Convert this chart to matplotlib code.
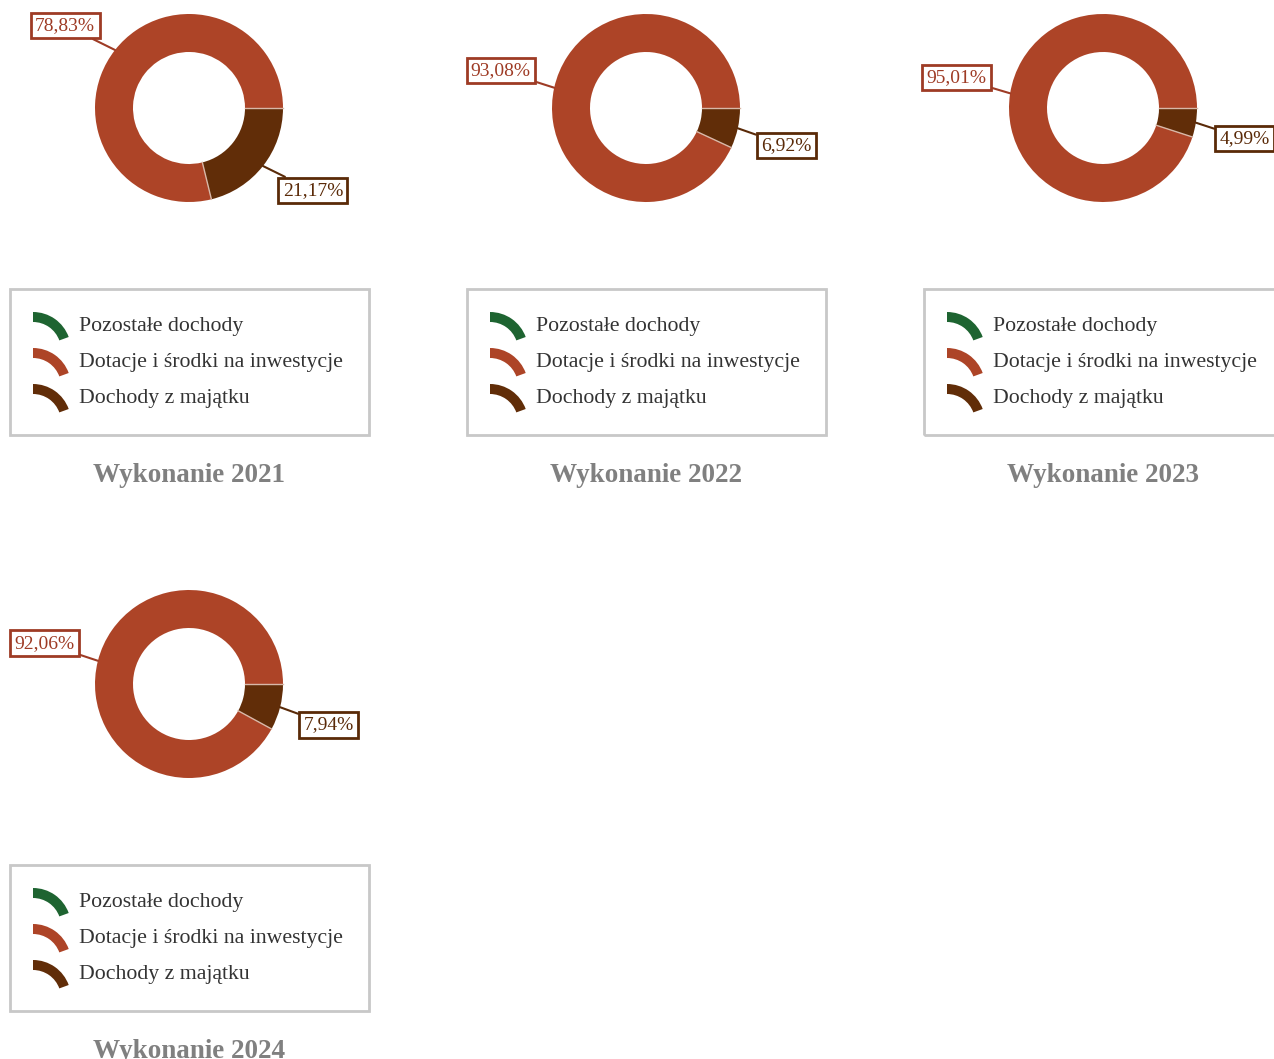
import numpy as np
import matplotlib
matplotlib.use("Agg")
import matplotlib.pyplot as plt
from matplotlib.patches import Rectangle, Wedge

plt.rcParams['font.family'] = ['Liberation Serif', 'DejaVu Serif']

# data
categories = ['Pozostałe dochody', 'Dotacje i środki na inwestycje', 'Dochody z majątku']
years = ['2021', '2022', '2023', '2024']
shares = {
    '2021': [0.0, 78.83, 21.17],
    '2022': [0.0, 93.08, 6.92],
    '2023': [0.0, 95.01, 4.99],
    '2024': [0.0, 92.06, 7.94],
}
colors = ['#1E6431', '#AD4427', '#612D08']
label_colors = ['#1E6431', '#9E3B25', '#5A2A08']

W, H = 1274, 1059
fig = plt.figure(figsize=(W / 100, H / 100), dpi=100)
ax = fig.add_axes([0, 0, 1, 1])

# donut centres in pixels (top-left origin)
centres = [(189, 108), (646, 108), (1103, 108), (189, 684)]
R_out, ring = 94, 38


def fmt(v):
    return ('%.2f' % v).replace('.', ',') + '%'


for year, (px, py) in zip(years, centres):
    cx, cy = px, H - py
    vals = shares[year]
    wedges, _ = ax.pie(vals, colors=colors, radius=R_out, center=(cx, cy),
                       startangle=0, counterclock=True,
                       wedgeprops=dict(width=ring, edgecolor='none', linewidth=0))
    # thin light separators between slices
    for w, v in zip(wedges, vals):
        if v <= 0:
            continue
        a = np.deg2rad(w.theta1)
        ax.plot([cx + (R_out - ring) * np.cos(a), cx + R_out * np.cos(a)],
                [cy + (R_out - ring) * np.sin(a), cy + R_out * np.sin(a)],
                color='#d8b8a8', lw=1)
    for w, v, lc in zip(wedges, vals, label_colors):
        if v <= 0:
            continue
        mid = np.deg2rad((w.theta1 + w.theta2) / 2)
        c, s = np.cos(mid), np.sin(mid)
        ex, ey = cx + R_out * c, cy + R_out * s
        ax_, ay_ = cx + 1.2 * R_out * c, cy + 1.2 * R_out * s
        tx = ax_ + 5 * np.sign(c)
        ty = ay_ + 13 * np.sign(s)
        ax.annotate(fmt(v), xy=(ex, ey), xytext=(tx, ty),
                    ha='left' if c > 0 else 'right', va='center',
                    fontsize=14, color=lc,
                    bbox=dict(boxstyle='square,pad=0.22', fc='white', ec=lc, lw=2),
                    arrowprops=dict(arrowstyle='-', color=lc, lw=1.5,
                                    shrinkA=0, shrinkB=0))

    # legend box
    bx, btop = px - 179, py + 181
    ax.add_patch(Rectangle((bx, H - btop - 146), 359, 146, fill=False,
                           ec='#C8C8C8', lw=2, clip_on=False))
    for i, (cat, col) in enumerate(zip(categories, colors)):
        ry = py + 216 + 36 * i
        ax.add_patch(Wedge((bx + 23, H - ry - 26), 38, 20, 90, width=10,
                           fc=col, ec='none'))
        ax.text(bx + 69, H - ry - 2, cat, fontsize=15.7, color='#333333',
                ha='left', va='center')
    ax.text(px, H - (py + 367), 'Wykonanie ' + year, fontsize=19.5, fontweight='bold',
            color='#808080', ha='center', va='center')

ax.set_xlim(0, W)
ax.set_ylim(0, H)
ax.set_aspect('auto')
ax.axis('off')

fig.savefig('out.png', dpi=100)
